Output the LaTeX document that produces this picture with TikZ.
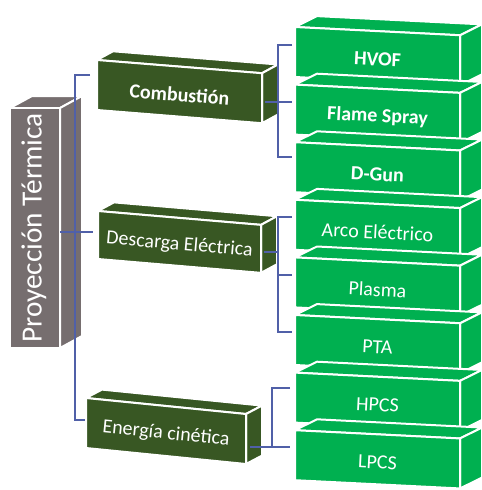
\documentclass[tikz,border=0pt]{standalone}
\usepackage{fontspec}
\setmainfont{Carlito}
\definecolor{grayface}{RGB}{118,110,111}
\definecolor{dkgreen}{RGB}{56,87,35}
\definecolor{brgreen}{RGB}{0,176,80}
\definecolor{linkblue}{RGB}{80,96,168}
\tikzset{
  face/.style={draw=white, line width=1.5pt, line join=round},
  boxtext/.style={text=white, inner sep=0pt, font=\fontsize{15}{18}\selectfont},
  conn/.style={draw=linkblue, line width=1.1pt}
}
% name, x, y, w, h, slope, fill colour, text
\newcommand\mybox[8]{%
  \begin{scope}[shift={(#2,#3)}, yslant=-#6]
    \fill[face, fill=#7] (0,0) -- (\dX,\dY) -- (#4+\dX,\dY) -- (#4,0) -- cycle;
    \fill[face, fill=#7] (#4,0) -- (#4+\dX,\dY) -- (#4+\dX,#5+\dY) -- (#4,#5) -- cycle;
    \fill[face, fill=#7] (0,0) rectangle (#4,#5);
    \node[boxtext, rotate={-atan(#6)}] (#1) at (#4/2,#5/2+3) {#8};
  \end{scope}}
\begin{document}
\begin{tikzpicture}[x=0.75pt,y=-0.75pt]
\useasboundingbox (0,0) rectangle (482,490);
% gray column
\def\dX{22}\def\dY{-12}
\fill[face, fill=grayface] (10,108) -- (32,96) -- (82,96) -- (60,108) -- cycle;
\fill[face, fill=grayface] (60,108) -- (82,96) -- (82,336) -- (60,348) -- cycle;
\fill[face, fill=grayface] (10,108) rectangle (60,348);
\node[boxtext, rotate=90, font=\fontsize{22}{26}\selectfont] (proy) at (34,228) {Proyección Térmica};
% dark green category boxes
\def\dX{16}\def\dY{-10}
\mybox{comb}{97}{60}{165}{50}{0.08}{dkgreen}{\bfseries Combustión}
\mybox{desc}{98}{211}{163}{48}{0.085}{dkgreen}{Descarga Eléctrica}
\mybox{ener}{86}{398}{160}{50}{0.1}{dkgreen}{Energía cinética}
% bright green process boxes
\def\dX{22}\def\dY{-12}
\mybox{hvof}{295}{27}{165}{50}{0.05}{brgreen}{\bfseries HVOF}
\mybox{flame}{295}{84.6}{165}{50}{0.05}{brgreen}{\bfseries Flame Spray}
\mybox{dgun}{295}{142.2}{165}{50}{0.05}{brgreen}{\bfseries D-Gun}
\mybox{arco}{295}{199.8}{165}{50}{0.05}{brgreen}{Arco Eléctrico}
\mybox{plasma}{295}{257.4}{165}{50}{0.05}{brgreen}{Plasma}
\mybox{pta}{295}{315}{165}{50}{0.05}{brgreen}{PTA}
\mybox{hpcs}{295}{372.6}{165}{50}{0.05}{brgreen}{HPCS}
\mybox{lpcs}{295}{430.2}{165}{50}{0.05}{brgreen}{LPCS}
% connector points
\coordinate (trT) at (75,75);   \coordinate (combL) at (90,75);
\coordinate (trB) at (75,420);  \coordinate (enerL) at (85,420);
\coordinate (proyR) at (60,232); \coordinate (descL) at (93,232);
\coordinate (cbT) at (278,45);  \coordinate (cbB) at (278,157);
\coordinate (cbM) at (278,102); \coordinate (combR) at (265,102);
\coordinate (hvofL) at (292,45); \coordinate (flameL) at (292,102); \coordinate (dgunL) at (292,157);
\coordinate (dbT) at (278,217); \coordinate (dbB) at (278,332);
\coordinate (dbM) at (278,275); \coordinate (dbC) at (278,252); \coordinate (descR) at (264,252);
\coordinate (arcoL) at (292,217); \coordinate (plasmaL) at (292,275); \coordinate (ptaL) at (292,332);
\coordinate (ebT) at (272,388); \coordinate (ebB) at (272,447); \coordinate (enerR) at (250,447);
\coordinate (hpcsL) at (290,388); \coordinate (lpcsL) at (290,447);
% connectors
\draw[conn] (combL) -- (trT) -- (trB) -- (enerL);
\draw[conn] (proyR) -- (descL);
\draw[conn] (hvofL) -- (cbT) -- (cbB) -- (dgunL);
\draw[conn] (combR) -- (flameL);
\draw[conn] (arcoL) -- (dbT) -- (dbB) -- (ptaL);
\draw[conn] (dbM) -- (plasmaL);
\draw[conn] (descR) -- (dbC);
\draw[conn] (hpcsL) -- (ebT) -- (ebB) -- (lpcsL);
\draw[conn] (enerR) -- (ebB);
\end{tikzpicture}
\end{document}
